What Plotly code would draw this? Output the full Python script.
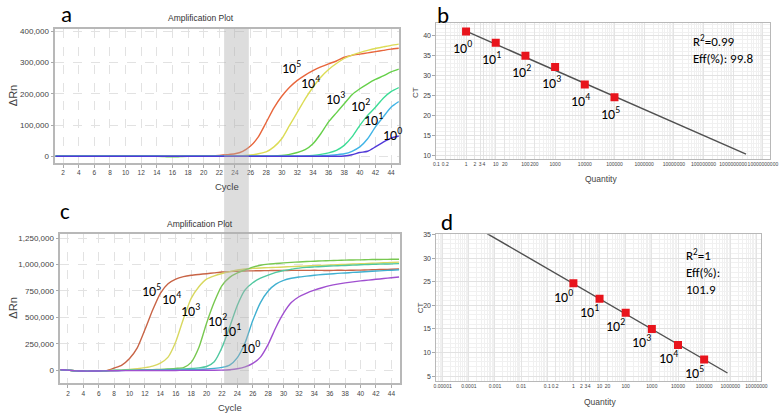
import math
import plotly.graph_objects as go

W, H = 780, 416

# ---------------- data ----------------
cycles = list(range(1, 46))
dilution_labels = ["10<sup>5</sup>", "10<sup>4</sup>", "10<sup>3</sup>",
                   "10<sup>2</sup>", "10<sup>1</sup>", "10<sup>0</sup>"]

# Panel a: ΔRn in thousands, cycles 1..45
a_1e5 = [0,0,0,0,0,0,0,0,0,0,0,0,0,0,0,0,0,0,0,
         1,2,3,5,8,16,33,62,108,155,192,221,243,260,274,286,296,305,317,323,327,331,335,339,343,346]
a_1e4 = [0,0,0,0,0,0,0,0,0,0,0,0,0,0,0,0,0,0,0,0,0,0,0,0,
         2,4,8,14,30,56,99,141,184,221,253,278,297,313,324,332,339,345,350,355,359]
a_1e3 = [0,0,0,0,0,0,0,0,0,0,0,0,0,0,-1,-2,-1,0,0,0,0,0,0,0,0,0,0,0,
         1,3,6,12,21,40,72,110,139,168,197,216,232,246,257,270,279]
a_1e2 = [0,0,0,0,0,0,0,0,0,0,0,0,0,0,0,0,0,0,0,0,0,0,0,0,0,0,0,0,0,0,0,0,
         1,3,6,11,19,35,62,99,131,157,186,207,220]
a_1e1 = [0,0,0,0,0,0,0,0,0,0,0,0,0,0,0,0,0,0,0,0,0,0,0,0,0,0,0,0,0,0,0,0,0,0,
         1,3,5,8,16,30,56,94,126,157,175]
a_1e0 = [0,0,0,0,0,0,0,0,0,0,0,0,0,0,0,0,0,0,0,0,0,0,0,0,0,0,0,0,0,0,0,0,0,0,0,0,0,
         1,5,12,16,30,45,58,65]

# Panel c: ΔRn in thousands, cycles 1..45
c_1e5 = [5,3,-6,-9,-9,-8,-3,22,50,112,212,385,570,728,818,862,885,898,906,913,
         921,929,933,936,939,940,941,942,943,943,944,944,944,945,944,943,946,944,946,947,
         949,951,953,955,957]
c_1e4 = [5,3,-6,-8,-8,-7,-4,0,3,8,15,25,40,68,125,270,487,680,790,862,
         893,915,933,948,958,963,967,970,973,976,980,983,986,989,992,995,998,1001,1004,1007,
         1010,1013,1016,1019,1022]
c_1e3 = [5,2,-5,-7,-7,-6,-4,-1,0,1,2,4,6,9,13,18,26,75,215,445,
         645,800,878,920,948,975,993,1003,1009,1015,1020,1024,1028,1031,1034,1036,1039,1041,1043,1044,
         1046,1047,1048,1049,1050]
c_1e2 = [5,2,-5,-7,-7,-6,-4,-2,0,1,2,3,4,6,8,10,13,17,23,36,
         81,215,410,615,760,828,870,900,925,943,955,966,973,977,981,985,988,991,994,997,
         1000,1002,1004,1006,1008]
c_1e1 = [5,2,-5,-7,-7,-6,-4,-2,-1,0,0,1,1,2,3,4,5,7,9,12,
         18,28,50,120,260,470,640,750,815,850,870,882,890,898,905,910,916,920,925,929,
         934,938,942,946,950]
c_1e0 = [5,2,-5,-7,-7,-6,-5,-4,-3,-3,-2,-2,-2,-1,-1,-1,0,0,0,1,
         1,2,6,15,32,65,125,245,405,540,640,695,730,757,780,800,815,826,836,845,
         852,860,867,875,882]

# Panels b and d: standard curves
quantity = [1, 10, 100, 1000, 10000, 100000]
b_ct = [41.1, 38.3, 35.0, 32.2, 27.8, 24.6]
b_fit_q = [1, 2.7e9]
b_fit_ct = [41.2, 10.3]
d_ct = [24.7, 21.4, 18.4, 15.0, 11.6, 8.5]
d_fit_q = [0.0005, 780000]
d_fit_ct = [35.2, 5.65]

# tick labels of the quantity axes
b_tickvals = [0.1, 0.2, 1, 2, 3, 4, 10, 20, 100, 200, 1e3, 1e4, 1e5, 1e6, 1e7, 1e8, 1e9, 1e10]
b_ticktext = ["0.1", "0.2", "1", "2", "3", "4", "10", "20", "100", "200", "1000", "10000",
              "100000", "1000000", "10000000", "100000000", "1000000000", "10000000000"]
d_tickvals = [1e-5, 1e-4, 1e-3, 0.01, 0.1, 0.2, 1, 2, 3, 4, 10, 20, 100, 1e3, 1e4, 1e5, 1e6, 1e7]
d_ticktext = ["0.00001", "0.0001", "0.001", "0.01", "0.1", "0.2", "1", "2", "3", "4", "10", "20",
              "100", "1000", "10000", "100000", "1000000", "10000000"]

# ---------------- styling ----------------
a_colors = ["#e8663c", "#dcdc55", "#66d04a", "#3cdc96", "#40b4e6", "#5038d8"]
c_colors = ["#c86446", "#d8d860", "#78c850", "#50c8a0", "#40b0d0", "#a050d0"]

NARROW = "Liberation Sans Narrow, Arial Narrow, Liberation Sans, sans-serif"
LBL = "Carlito, Calibri, Lato, Open Sans, sans-serif"


def px(x):
    return x / W


def py(y):
    return 1 - y / H


fig = go.Figure()

a_series = [a_1e5, a_1e4, a_1e3, a_1e2, a_1e1, a_1e0]
c_series = [c_1e5, c_1e4, c_1e3, c_1e2, c_1e1, c_1e0]

for vals, col in zip(a_series, a_colors):
    fig.add_trace(go.Scatter(x=cycles, y=[v * 1000 for v in vals], mode="lines",
                             line=dict(color=col, width=1.4, shape="spline", smoothing=0.6),
                             xaxis="x", yaxis="y", showlegend=False, hoverinfo="skip"))
for vals, col in zip(c_series, c_colors):
    fig.add_trace(go.Scatter(x=cycles, y=[v * 1000 for v in vals], mode="lines",
                             line=dict(color=col, width=1.4, shape="spline", smoothing=0.6),
                             xaxis="x3", yaxis="y3", showlegend=False, hoverinfo="skip"))

fig.add_trace(go.Scatter(x=b_fit_q, y=b_fit_ct, mode="lines", line=dict(color="#505050", width=1.4),
                         xaxis="x2", yaxis="y2", showlegend=False, hoverinfo="skip"))
fig.add_trace(go.Scatter(x=quantity, y=b_ct, mode="markers",
                         marker=dict(symbol="square", size=8, color="#e8141c"),
                         xaxis="x2", yaxis="y2", showlegend=False, hoverinfo="skip"))
fig.add_trace(go.Scatter(x=d_fit_q, y=d_fit_ct, mode="lines", line=dict(color="#505050", width=1.4),
                         xaxis="x4", yaxis="y4", showlegend=False, hoverinfo="skip"))
fig.add_trace(go.Scatter(x=quantity, y=d_ct, mode="markers",
                         marker=dict(symbol="square", size=8, color="#e8141c"),
                         xaxis="x4", yaxis="y4", showlegend=False, hoverinfo="skip"))

grid = "#e2e2e2"
frame = "#b8b8b8"
cyc_ticks = list(range(2, 45, 2))

common_amp_x = dict(tickvals=cyc_ticks, tickfont=dict(size=6.5, family=NARROW, color="#444"),
                    showgrid=True, gridcolor=grid, griddash="dash", gridwidth=1,
                    showline=True, linecolor=frame, linewidth=1.5, mirror=True,
                    ticks="outside", ticklen=3, tickcolor="#aaa", zeroline=False, tickangle=0)
common_amp_y = dict(tickfont=dict(size=8, family=NARROW, color="#444"), tickformat=",",
                    showgrid=True, gridcolor=grid, griddash="dash",
                    showline=True, linecolor=frame, linewidth=1.5, mirror=True,
                    ticks="outside", ticklen=3, tickcolor="#aaa", zeroline=False)


def minor_vals(e0, e1):
    return [k * 10.0 ** e for e in range(e0, e1 + 1) for k in range(2, 10)]


common_log_x = dict(type="log", tickfont=dict(size=5, family=NARROW, color="#444"),
                    showgrid=True, gridcolor="#e4e4e4", gridwidth=1,
                    showline=True, linecolor=frame, linewidth=1, mirror=True,
                    ticks="", zeroline=False, tickangle=0)
common_ct_y = dict(tickfont=dict(size=7, family=NARROW, color="#444"), dtick=5,
                   showgrid=True, gridcolor="#e2e2e2",
                   minor=dict(dtick=1, showgrid=True, gridcolor="#f1f1f1"),
                   showline=True, linecolor=frame, linewidth=1, mirror=True,
                   ticks="outside", ticklen=3, tickcolor="#aaa", zeroline=False)

fig.update_layout(
    width=W, height=H, margin=dict(l=0, r=0, t=0, b=0),
    paper_bgcolor="white", plot_bgcolor="white",
    xaxis=dict(domain=[px(53), px(401)], range=[1, 45], anchor="y", **common_amp_x),
    yaxis=dict(domain=[py(161), py(26)], range=[-21000, 408000], anchor="x",
               tickvals=[0, 100000, 200000, 300000, 400000], **common_amp_y),
    xaxis3=dict(domain=[px(58), px(402)], range=[1, 45.1], anchor="y3", **common_amp_x),
    yaxis3=dict(domain=[py(383), py(233)], range=[-122000, 1285000], anchor="x3",
                tickvals=[0, 250000, 500000, 750000, 1000000, 1250000], **common_amp_y),
    xaxis2=dict(domain=[px(439), px(777)], range=[-1, 10.24], anchor="y2",
                tickvals=b_tickvals, ticktext=b_ticktext,
                minor=dict(tickmode="array", tickvals=minor_vals(-1, 10), showgrid=True,
                           gridcolor="#f0f0f0", ticks=""),
                **common_log_x),
    yaxis2=dict(domain=[py(157), py(20)], range=[9.1, 43.3], anchor="x2", **common_ct_y),
    xaxis4=dict(domain=[px(439), px(768)], range=[-5.24, 7.18], anchor="y4",
                tickvals=d_tickvals, ticktext=d_ticktext,
                minor=dict(tickmode="array", tickvals=minor_vals(-6, 7), showgrid=True,
                           gridcolor="#f0f0f0", ticks=""),
                **common_log_x),
    yaxis4=dict(domain=[py(381), py(233)], range=[3.9, 35.05], anchor="x4", **common_ct_y),
)

# grey band spanning panels a and c
fig.add_shape(type="rect", xref="paper", yref="paper",
              x0=px(224), x1=px(249), y0=py(383), y1=py(26),
              fillcolor="rgba(175,175,175,0.42)", line=dict(width=0), layer="above")

ann = []


def text(x, y, s, size, family=LBL, color="black", angle=0, xanchor="center", yanchor="middle"):
    ann.append(dict(x=px(x), y=py(y), xref="paper", yref="paper", text=s, showarrow=False,
                    font=dict(size=size, family=family, color=color), textangle=angle,
                    xanchor=xanchor, yanchor=yanchor, align="left"))


text(64, 11, "a", 23)
text(446, 12, "b", 23)
text(63, 210, "c", 23)
text(450, 221, "d", 23)

text(201, 15, "Amplification Plot", 8.5, NARROW, "#333")
text(200, 223, "Amplification Plot", 8.5, NARROW, "#333")

text(10, 93, "ΔRn", 11, NARROW, "#444", -90)
text(227, 185, "Cycle", 9.5, NARROW, "#444")
text(10, 307, "ΔRn", 11, NARROW, "#444", -90)
text(230, 407, "Cycle", 9.5, NARROW, "#444")
text(418, 90, "CT", 8, NARROW, "#444", -90)
text(606, 177, "Quantity", 8.5, NARROW, "#444")
text(423, 307, "CT", 8, NARROW, "#444", -90)
text(605, 402, "Quantity", 8.5, NARROW, "#444")

text(697, 27, "R<sup>2</sup>=0.99<br>Eff(%): 99.8", 13, xanchor="left", yanchor="top")
text(690, 243, "R<sup>2</sup>=1<br>Eff(%):<br>101.9", 13, xanchor="left", yanchor="top")

a_lab_pos = [(31.2, 284000), (33.7, 237000), (36.9, 185000), (40.1, 163000), (41.8, 119000), (44.2, 71000)]
for s, (xx, yy) in zip(dilution_labels, a_lab_pos):
    ann.append(dict(x=xx, y=yy, xref="x", yref="y", text=s, showarrow=False,
                    font=dict(size=14, family=LBL, color="black")))
c_lab_pos = [(12.9, 750000), (15.5, 680000), (17.9, 562000), (21.4, 469000), (23.2, 375000), (25.7, 215000)]
for s, (xx, yy) in zip(dilution_labels, c_lab_pos):
    ann.append(dict(x=xx, y=yy, xref="x3", yref="y3", text=s, showarrow=False,
                    font=dict(size=14, family=LBL, color="black")))

for s, q, ct in zip(dilution_labels[::-1], quantity, b_ct):
    ann.append(dict(x=math.log10(q), y=ct, xref="x2", yref="y2", text=s, showarrow=False,
                    xshift=-4, yshift=-16, font=dict(size=14, family=LBL, color="black")))
for s, q, ct in zip(dilution_labels[::-1], quantity, d_ct):
    ann.append(dict(x=math.log10(q), y=ct, xref="x4", yref="y4", text=s, showarrow=False,
                    xshift=-10, yshift=-13, font=dict(size=14, family=LBL, color="black")))

fig.update_layout(annotations=ann)
fig.write_html("out.html", config={"displayModeBar": False},
               post_script="document.body.style.margin='0';")
